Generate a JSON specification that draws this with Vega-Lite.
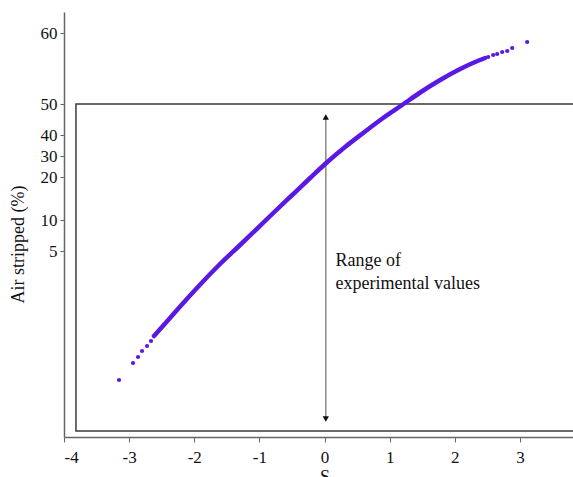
{
  "$schema": "https://vega.github.io/schema/vega-lite/v6.json",
  "width": 521,
  "height": 425,
  "autosize": {"type": "none"},
  "padding": {"left": 64, "top": 12, "right": -12, "bottom": 40},
  "background": "white",
  "config": {
    "view": {"stroke": null},
    "font": "Liberation Serif",
    "axis": {"grid": false, "domainColor": "#666", "tickColor": "#666", "domainWidth": 1.5, "labelFont": "Liberation Serif", "titleFont": "Liberation Serif", "labelColor": "#111", "titleColor": "#111", "titleFontWeight": "normal", "labelFontSize": 17, "titleFontSize": 18}
  },
  "datasets": {
    "curve": [
      {"S": -2.618, "pos": 101},
      {"S": -2.372, "pos": 119},
      {"S": -2.141, "pos": 136},
      {"S": -1.865, "pos": 155.5},
      {"S": -1.604, "pos": 173},
      {"S": -1.296, "pos": 192},
      {"S": -0.882, "pos": 218},
      {"S": -0.528, "pos": 240},
      {"S": -0.221, "pos": 259},
      {"S": 0.009, "pos": 273},
      {"S": 0.316, "pos": 290},
      {"S": 0.593, "pos": 304},
      {"S": 0.9, "pos": 319},
      {"S": 1.192, "pos": 332},
      {"S": 1.469, "pos": 344.5},
      {"S": 1.776, "pos": 357},
      {"S": 2.083, "pos": 368},
      {"S": 2.313, "pos": 375},
      {"S": 2.467, "pos": 379}
    ],
    "dots": [
      {"S": -3.155, "pos": 57},
      {"S": -2.94, "pos": 74},
      {"S": -2.863, "pos": 80},
      {"S": -2.802, "pos": 86},
      {"S": -2.725, "pos": 91},
      {"S": -2.664, "pos": 96},
      {"S": 2.513, "pos": 380},
      {"S": 2.59, "pos": 382},
      {"S": 2.651, "pos": 383},
      {"S": 2.728, "pos": 385},
      {"S": 2.805, "pos": 386},
      {"S": 2.882, "pos": 389},
      {"S": 3.112, "pos": 395}
    ]
  },
  "encoding": {
    "x": {"type": "quantitative", "scale": {"domain": [-4, 4], "nice": false, "zero": false}},
    "y": {"type": "quantitative", "scale": {"domain": [0, 425], "nice": false, "zero": false}}
  },
  "layer": [
    {
      "data": {"values": [{"S1": -3.816, "S2": 4, "top": 333, "bottom": 6}]},
      "mark": {"type": "rect", "fill": null, "stroke": "#3a3a3a", "strokeWidth": 1.5, "clip": false},
      "encoding": {
        "x": {"field": "S1", "type": "quantitative", "title": "S",
          "axis": {"values": [-4, -3, -2, -1, 0, 1, 2, 3, 4], "labelExpr": "datum.value < 0 ? '-' + abs(datum.value) : '' + datum.value", "tickSize": 5, "labelPadding": 7, "titleY": 31, "titleBaseline": "top", "titleAnchor": "middle"}},
        "x2": {"field": "S2"},
        "y": {"field": "top", "type": "quantitative", "title": "Air stripped (%)",
          "axis": {"values": [404, 333, 302, 281, 260, 217, 186], "labelExpr": "datum.value == 404 ? '60' : datum.value == 333 ? '50' : datum.value == 302 ? '40' : datum.value == 281 ? '30' : datum.value == 260 ? '20' : datum.value == 217 ? '10' : '5'", "tickSize": 4, "labelPadding": 3, "titleX": -46, "titleY": 232, "titleAngle": -90, "titleAlign": "center", "titleBaseline": "middle"}},
        "y2": {"field": "bottom"}
      }
    },
    {
      "data": {"values": [{"S": 0.02, "from": 318, "to": 20}]},
      "mark": {"type": "rule", "color": "#888", "strokeWidth": 1.5},
      "encoding": {
        "x": {"field": "S", "type": "quantitative"},
        "y": {"field": "from", "type": "quantitative"},
        "y2": {"field": "to"}
      }
    },
    {
      "data": {"values": [{"S": 0.02, "pos": 320, "dir": "up"}, {"S": 0.02, "pos": 18, "dir": "down"}]},
      "mark": {"type": "point", "filled": true, "color": "#111", "size": 40, "opacity": 1},
      "encoding": {
        "x": {"field": "S", "type": "quantitative"},
        "y": {"field": "pos", "type": "quantitative"},
        "shape": {"field": "dir", "type": "nominal", "scale": {"domain": ["up", "down"], "range": ["triangle-up", "triangle-down"]}, "legend": null}
      }
    },
    {
      "data": {"values": [{"S": 0.17, "pos": 176, "label": "Range of"}, {"S": 0.17, "pos": 153, "label": "experimental values"}]},
      "mark": {"type": "text", "align": "left", "baseline": "middle", "fontSize": 18, "font": "Liberation Serif", "color": "#111"},
      "encoding": {
        "x": {"field": "S", "type": "quantitative"},
        "y": {"field": "pos", "type": "quantitative"},
        "text": {"field": "label"}
      }
    },
    {
      "data": {"name": "curve"},
      "mark": {"type": "line", "color": "#5a18e4", "strokeWidth": 4.5, "interpolate": "monotone", "strokeCap": "round"},
      "encoding": {
        "x": {"field": "S", "type": "quantitative"},
        "y": {"field": "pos", "type": "quantitative"}
      }
    },
    {
      "data": {"name": "dots"},
      "mark": {"type": "circle", "color": "#5a18e4", "size": 18, "opacity": 1},
      "encoding": {
        "x": {"field": "S", "type": "quantitative"},
        "y": {"field": "pos", "type": "quantitative"}
      }
    }
  ]
}
